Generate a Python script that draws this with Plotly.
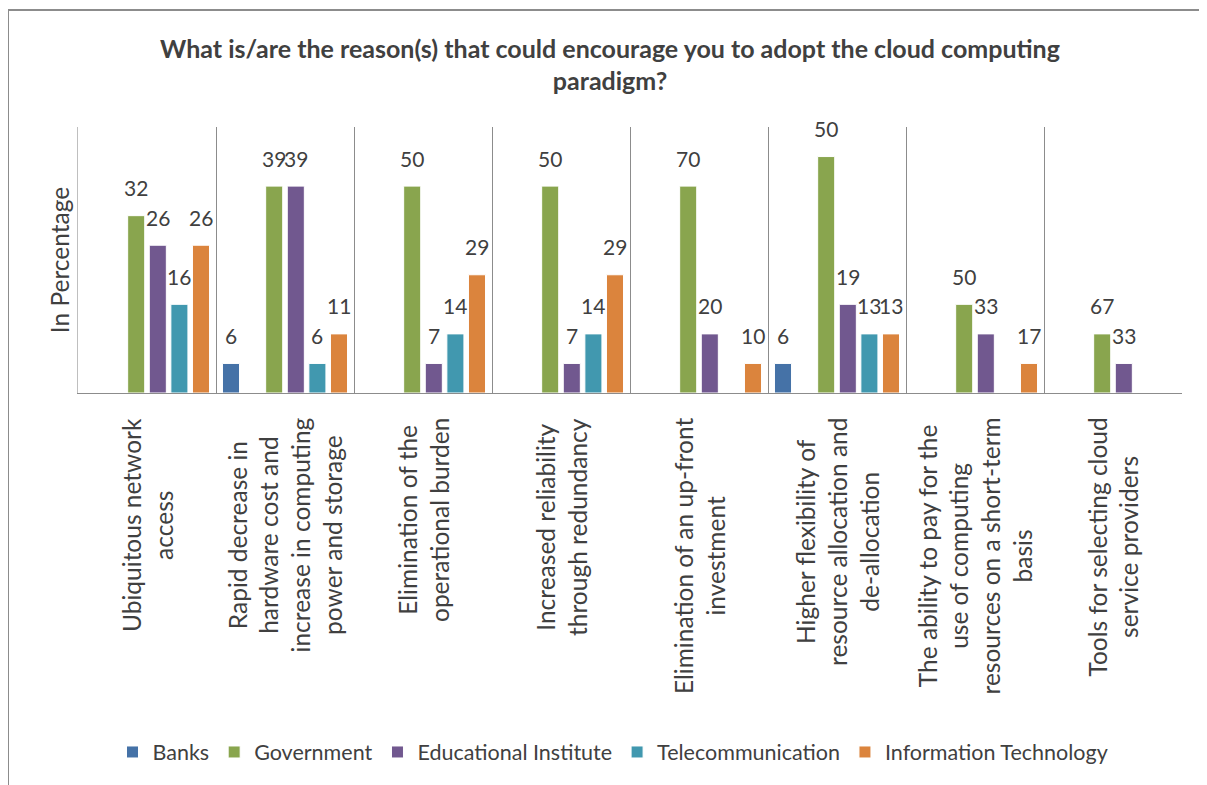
import plotly.graph_objects as go

# ---------------- data ----------------
categories = [
    "Ubiquitous network<br>access",
    "Rapid decrease in<br>hardware cost and<br>increase in computing<br>power and storage",
    "Elimination of the<br>operational burden",
    "Increased reliability<br>through redundancy",
    "Elimination of an up-front<br>investment",
    "Higher flexibility of<br>resource allocation and<br>de-allocation",
    "The ability to pay for the<br>use of computing<br>resources on a short-term<br>basis",
    "Tools for selecting cloud<br>service providers",
]

series_names = ["Banks", "(unlabelled)", "Government", "Educational Institute",
                "Telecommunication", "Information Technology"]

# bar heights (as drawn in the reference)
banks_h = [None, 1, None, None, None, 1, None, None]
blank_h = [None, None, None, None, None, None, None, None]
gov_h = [6, 7, 7, 7, 7, 8, 3, 2]
edu_h = [5, 7, 1, 1, 2, 3, 2, 1]
tel_h = [3, 1, 2, 2, None, 2, None, None]
it_h = [5, 2, 4, 4, 1, 2, 1, None]

# data labels (percentages)
banks_pct = [None, 6, None, None, None, 6, None, None]
blank_pct = [None, None, None, None, None, None, None, None]
gov_pct = [32, 39, 50, 50, 70, 50, 50, 67]
edu_pct = [26, 39, 7, 7, 20, 19, 33, 33]
tel_pct = [16, 6, 14, 14, None, 13, None, None]
it_pct = [26, 11, 29, 29, 10, 13, 17, None]

colors = ["#4572A7", "#FFFFFF", "#89A54E", "#71588F", "#4198AF", "#DB843D"]

heights = [banks_h, blank_h, gov_h, edu_h, tel_h, it_h]
pcts = [banks_pct, blank_pct, gov_pct, edu_pct, tel_pct, it_pct]

# ---------------- layout constants ----------------
# the page adds an 8px body margin, so figure pixel = screen pixel - 8
W, H = 1207, 785
ML, MT = 70, 119
PW, PH = 1104, 266
MR, MB = W - ML - PW, H - MT - PH
PB = MT + PH  # plot bottom in figure pixels
BARGAP = 0.061
BARGROUPGAP = 0.21
FONT = "Lato, 'Open Sans', sans-serif"
TXT = "#404040"
GRID = "#8C8C8C"

fig = go.Figure()
for name, h, c in zip(series_names, heights, colors):
    fig.add_trace(go.Bar(
        name=name, x=categories, y=h,
        marker=dict(color=c, line=dict(color="#FFFFFF", width=1)),
        showlegend=(name != "(unlabelled)"),
        hoverinfo="skip" if name == "(unlabelled)" else None,
    ))

n_cat = len(categories)
n_slot = len(series_names)
cat_px = PW / n_cat
slot_px = cat_px * (1 - BARGAP) / n_slot

annotations = []
# value labels
for j, (h, p) in enumerate(zip(heights, pcts)):
    for cat, hv, pv in zip(categories, h, p):
        if hv is None or pv is None:
            continue
        annotations.append(dict(
            x=cat, y=hv, xref="x", yref="y", text=str(pv), showarrow=False,
            xshift=(j - (n_slot - 1) / 2) * slot_px, yshift=28,
            xanchor="center", yanchor="middle",
            font=dict(family=FONT, size=21, color=TXT),
        ))
# category labels
for cat in categories:
    annotations.append(dict(
        x=cat, y=-23 / PH, xref="x", yref="paper", text=cat, showarrow=False,
        textangle=-90, xanchor="center", yanchor="top", align="center",
        font=dict(family=FONT, size=24.5, color=TXT),
    ))

fig.update_layout(
    width=W, height=H,
    margin=dict(l=ML, r=MR, t=MT, b=MB, autoexpand=False),
    paper_bgcolor="white", plot_bgcolor="white",
    barmode="group", bargap=BARGAP, bargroupgap=BARGROUPGAP,
    title=dict(
        text="What is/are the reason(s) that could encourage you to adopt the cloud computing<br>paradigm?",
        x=(602 - ML) / PW, xref="paper", xanchor="center",
        y=1 - 49.5 / H, yref="container", yanchor="middle",
        font=dict(family=FONT, size=25, color=TXT, weight="bold"),
    ),
    font=dict(family=FONT, color=TXT),
    xaxis=dict(
        type="category", showticklabels=False, ticks="",
        tickson="boundaries", showgrid=True, gridcolor=GRID, gridwidth=1,
        showline=True, linecolor=GRID, linewidth=1, zeroline=False,
        fixedrange=True,
    ),
    yaxis=dict(
        range=[0, 9], showticklabels=False, ticks="", showgrid=False,
        zeroline=False, showline=True, linecolor="#BFBFBF", linewidth=1,
        title=dict(text="In Percentage", standoff=0,
                   font=dict(family=FONT, size=24.5, color=TXT)),
        fixedrange=True,
    ),
    legend=dict(
        orientation="h", x=(605 - ML) / PW, xanchor="center",
        y=(PB - 744) / PH, yanchor="middle",
        font=dict(family=FONT, size=21.5, color=TXT),
        itemwidth=30, traceorder="normal",
    ),
    annotations=annotations,
    shapes=[dict(
        type="rect", xref="paper", yref="paper",
        x0=(0 - ML) / PW, x1=(1215 - ML) / PW,
        y0=(PB - 795) / PH, y1=(PB - 2) / PH,
        line=dict(color="#8C8C8C", width=2), fillcolor="rgba(0,0,0,0)",
        layer="below",
    )],
)

fig.write_html("out.html")
